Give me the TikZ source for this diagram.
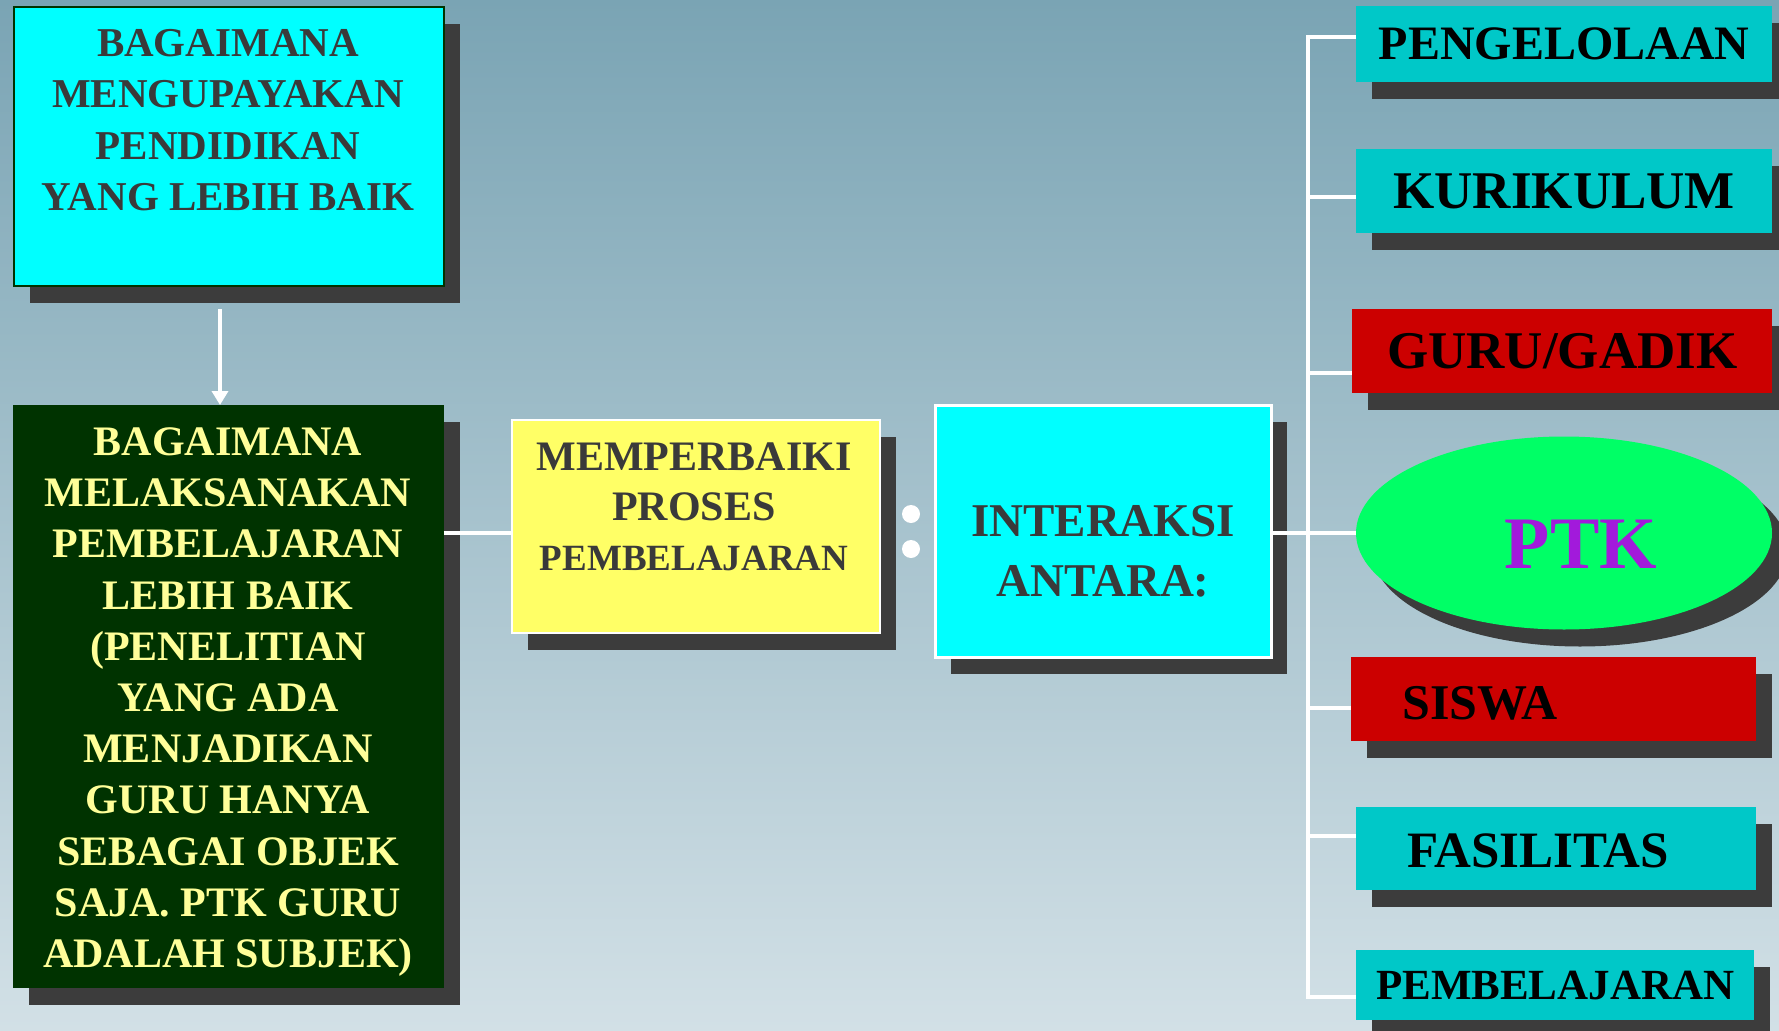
\documentclass[tikz,border=0pt]{standalone}
\usepackage{fontspec}
\setmainfont{Liberation Serif}
\usetikzlibrary{shapes.geometric,shadows,arrows.meta,calc}
\definecolor{bgtop}{HTML}{7AA4B4}
\definecolor{bgbot}{HTML}{D2E0E6}
\definecolor{shadowc}{HTML}{3C3C3C}
\definecolor{cyanbox}{HTML}{00FFFF}
\definecolor{tealbox}{HTML}{00C8C8}
\definecolor{redbox}{HTML}{CC0000}
\definecolor{greenell}{HTML}{00FF66}
\definecolor{yellowbox}{HTML}{FFFF66}
\definecolor{darkgreen}{HTML}{003300}
\definecolor{paleyellow}{HTML}{FFFF99}
\definecolor{darktext}{HTML}{3A3A3A}
\definecolor{ptkpurple}{HTML}{A21ADB}
\newcommand\fsz[2]{\fontsize{#1}{#2}\selectfont\bfseries}
\begin{document}
\begin{tikzpicture}[x=1pt,y=-1pt,
  shadowed/.style={general shadow={fill=shadowc, shadow xshift=16pt, shadow yshift=-17pt}},
  box/.style={rectangle, inner sep=0pt, anchor=north west, shadowed, align=center},
  txt/.style={inner sep=0pt, align=center},
  conn/.style={draw=white, line width=4.5pt},
]
\clip (0,0) rectangle (1779,1030);
\useasboundingbox (0,0) rectangle (1779,1030);
\shade[top color=bgtop, bottom color=bgbot] (0,0) rectangle (1779,1030);

% left column
\node[box, fill=cyanbox, draw=darkgreen, line width=2.5pt,
      minimum width=430pt, minimum height=279pt] (b1) at (12.5,5.7) {};
\node[txt, text=darktext, font=\fsz{41}{51.5}] (t1) at (228,120)
  {BAGAIMANA\\MENGUPAYAKAN\\PENDIDIKAN\\YANG LEBIH BAIK};

\node[box, fill=darkgreen, minimum width=431pt, minimum height=583pt] (b2) at (12.5,405) {};
\node[txt, text=paleyellow, font=\fsz{42}{51.2}] (b2t) at (228,702)
  {BAGAIMANA\\MELAKSANAKAN\\PEMBELAJARAN\\LEBIH BAIK\\(PENELITIAN\\YANG ADA\\MENJADIKAN\\GURU HANYA\\SEBAGAI OBJEK\\SAJA. PTK GURU\\ADALAH SUBJEK)};

% middle
\node[box, fill=yellowbox, draw=white, line width=2pt,
      minimum width=368pt, minimum height=213pt] (yl) at (510.6,418.7) {};
\node[txt, text=darktext, font=\fsz{42}{50}] (yt) at (694,507)
  {MEMPERBAIKI\\PROSES\\\fsz{37}{50}PEMBELAJARAN};

\fill[white] (911,514) circle[radius=9pt];
\fill[white] (911,549) circle[radius=9pt];

\node[box, fill=cyanbox, draw=white, line width=2.5pt,
      minimum width=336pt, minimum height=252pt] (ib) at (934,404) {};
\node[txt, text=darktext, font=\fsz{47}{60}] (it) at (1103,551)
  {INTERAKSI\\ANTARA:};

% right column
\node[box, fill=tealbox, font=\fsz{48}{56}, minimum width=416pt, minimum height=76pt]
  (pg) at (1356,5.7) {PENGELOLAAN};
\node[box, fill=tealbox, font=\fsz{53}{60}, minimum width=416pt, minimum height=84pt]
  (ku) at (1356,149) {KURIKULUM};
\node[box, fill=redbox, font=\fsz{53}{60}, minimum width=420pt, minimum height=84pt]
  (gu) at (1352,309) {GURU/GADIK};
\node[ellipse, inner sep=0pt, shadowed, fill=greenell,
      minimum width=416pt, minimum height=193pt] (ptk) at (1564,533) {};
\node[txt, text=ptkpurple, font=\fsz{74}{80}] (ptkt) at (1581,544) {PTK};
\node[box, fill=redbox, minimum width=405pt, minimum height=84pt] (sw) at (1351,657) {};
\node[txt, font=\fsz{50}{56}] (swt) at (1480,703) {SISWA};
\node[box, fill=tealbox, minimum width=400pt, minimum height=83pt] (fs) at (1356,807) {};
\node[txt, font=\fsz{51}{56}] (fst) at (1538,851) {FASILITAS};
\node[box, fill=tealbox, font=\fsz{43}{50}, minimum width=398pt, minimum height=70pt]
  (pb) at (1356,950) {PEMBELAJARAN};

% connectors
\coordinate (a1) at (220,309);
\coordinate (ml) at (0,533);
\coordinate (tk) at (1308,0);
\coordinate (y37) at (0,37);
\coordinate (y197) at (0,197);
\coordinate (y373) at (0,373);
\coordinate (y708) at (0,708);
\coordinate (y836) at (0,836);
\coordinate (y997) at (0,997);

\draw[conn, -{Triangle[width=16pt,length=14pt]}] (a1) -- (a1 |- b2.north);
\draw[conn] (b2.east |- ml) -- (yl.west |- ml);
\draw[conn] (ib.east |- ml) -- (ptk.west);
\draw[conn] (pg.west |- y37) -- (tk |- y37) -- (tk |- y997) -- (pb.west |- y997);
\draw[conn] (tk |- y197) -- (ku.west |- y197);
\draw[conn] (tk |- y373) -- (gu.west |- y373);
\draw[conn] (tk |- y708) -- (sw.west |- y708);
\draw[conn] (tk |- y836) -- (fs.west |- y836);
\end{tikzpicture}
\end{document}
